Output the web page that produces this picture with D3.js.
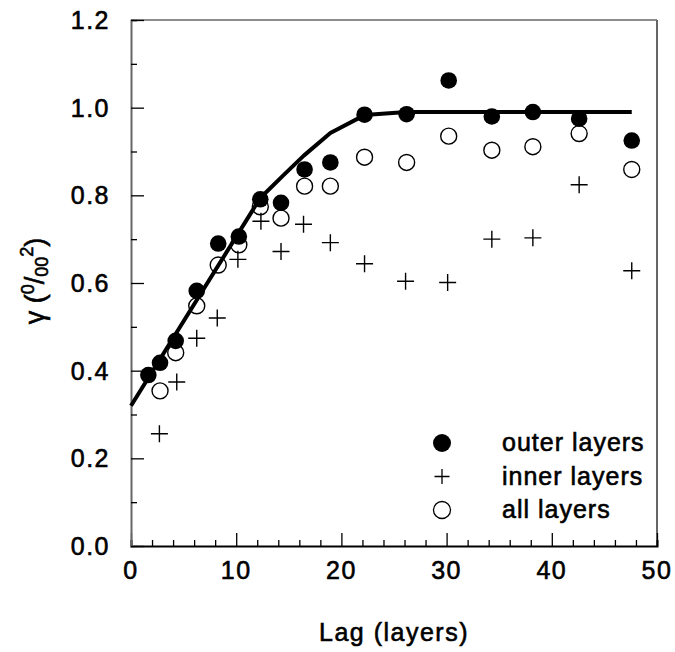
<!DOCTYPE html>
<html>
<head>
<meta charset="utf-8">
<script src="https://cdn.jsdelivr.net/npm/d3@7"></script>
<style>
  body { margin: 0; background: #fff; }
  svg text { font-family: "Liberation Sans", Arial, Helvetica, sans-serif; fill: #000; stroke: #000; stroke-width: 0.6px; }
</style>
</head>
<body>
<div id="chart"></div>
<script>
// lags (layers) and semivariance values
const outerLag = [1.65, 2.76, 4.25, 6.25, 8.29, 10.25, 12.29, 14.26, 16.5, 18.95, 22.2, 26.2, 30.2, 34.3, 38.2, 42.6, 47.6];
const outerVal = [0.390, 0.418, 0.468, 0.582, 0.690, 0.706, 0.791, 0.783, 0.859, 0.875, 0.984, 0.985, 1.062, 0.980, 0.990, 0.975, 0.925];

const innerLag = [2.7, 4.35, 6.25, 8.2, 10.16, 12.35, 14.26, 16.4, 18.95, 22.2, 26.1, 30.1, 34.3, 38.2, 42.6, 47.6];
const innerVal = [0.256, 0.374, 0.474, 0.520, 0.654, 0.741, 0.672, 0.734, 0.692, 0.644, 0.604, 0.601, 0.700, 0.703, 0.824, 0.628];

const allLag = [2.76, 4.25, 6.25, 8.29, 10.25, 12.29, 14.26, 16.5, 18.95, 22.2, 26.2, 30.2, 34.3, 38.2, 42.6, 47.6];
const allVal = [0.354, 0.441, 0.548, 0.641, 0.687, 0.774, 0.748, 0.821, 0.821, 0.887, 0.875, 0.935, 0.903, 0.911, 0.941, 0.859];

// fitted model line
const fitLag = [0, 12.29, 14.5, 16.4, 18.95, 22.2, 26.2, 47.6];
const fitVal = [0.32, 0.794, 0.846, 0.89, 0.942, 0.983, 0.99, 0.99];

const xTicks = [0, 10, 20, 30, 40, 50];
const yTicks = [0.0, 0.2, 0.4, 0.6, 0.8, 1.0, 1.2];

const legendItems = ["outer layers", "inner layers", "all layers"];

const width = 675;
const height = 652;
const margin = { top: 20, right: 18, bottom: 106, left: 131 };

const svg = d3.select("#chart").append("svg")
  .attr("width", width)
  .attr("height", height);

const x = d3.scaleLinear().domain([0, 50]).range([margin.left, width - margin.right]);
const y = d3.scaleLinear().domain([0, 1.2]).range([height - margin.bottom, margin.top]);

const fontSize = 25;

// frame
svg.append("line")
  .attr("x1", x(0)).attr("x2", x(50))
  .attr("y1", y(1.2)).attr("y2", y(1.2))
  .attr("stroke", "#666").attr("stroke-width", 1.5);
svg.append("line")
  .attr("x1", x(50)).attr("x2", x(50))
  .attr("y1", y(1.2)).attr("y2", y(0))
  .attr("stroke", "#666").attr("stroke-width", 2);

// x axis, ticks pointing inward
const xAxis = svg.append("g")
  .attr("transform", `translate(0,${y(0)})`)
  .call(d3.axisTop(x).tickValues(d3.range(0, 51, 2)).tickSize(6).tickFormat(""));
xAxis.selectAll(".tick line")
  .attr("y2", d => d % 10 === 0 ? -13 : -6)
  .attr("stroke", "#000").attr("stroke-width", 1.3);
xAxis.select(".domain").attr("stroke", "#000").attr("stroke-width", 2);

svg.append("g").selectAll("text")
  .data(xTicks)
  .enter().append("text")
  .attr("x", d => x(d))
  .attr("y", y(0) + 33)
  .attr("text-anchor", "middle")
  .style("font-size", fontSize + "px")
  .style("letter-spacing", "1.5px")
  .text(d => d);

// y axis, ticks pointing inward
const yAxis = svg.append("g")
  .attr("transform", `translate(${x(0)},0)`)
  .call(d3.axisRight(y).tickValues(d3.range(0, 12.5, 1).map(d => d / 10)).tickSize(6).tickFormat(""));
yAxis.selectAll(".tick line")
  .attr("x2", (d, i) => i % 2 === 0 ? 13 : 6)
  .attr("stroke", "#000").attr("stroke-width", 1.3);
yAxis.select(".domain").attr("stroke", "#666").attr("stroke-width", 2);

svg.append("g").selectAll("text")
  .data(yTicks)
  .enter().append("text")
  .attr("x", x(0) - 21)
  .attr("y", d => y(d) + 9)
  .attr("text-anchor", "end")
  .style("font-size", fontSize + "px")
  .style("letter-spacing", "1.5px")
  .text(d => d.toFixed(1));

// axis titles
svg.append("text")
  .attr("x", (x(0) + x(50)) / 2)
  .attr("y", 641)
  .attr("text-anchor", "middle")
  .style("font-size", fontSize + "px")
  .style("letter-spacing", "1.5px")
  .text("Lag (layers)");

const yTitle = svg.append("text")
  .attr("transform", `translate(44,${281}) rotate(-90)`)
  .attr("text-anchor", "middle")
  .style("font-size", "27px");
yTitle.append("tspan").text("\u03b3 (");
yTitle.append("tspan").attr("dy", -10).style("font-size", "18px").text("0");
yTitle.append("tspan").attr("dy", 10).text("/");
yTitle.append("tspan").attr("dy", 4).style("font-size", "18px").text("00");
yTitle.append("tspan").attr("dy", -15).style("font-size", "18px").text("2");
yTitle.append("tspan").attr("dy", 11).text(")");

// open circles: all layers
svg.append("g").selectAll("circle")
  .data(allLag.map((d, i) => [d, allVal[i]]))
  .enter().append("circle")
  .attr("cx", d => x(d[0]))
  .attr("cy", d => y(d[1]))
  .attr("r", 8)
  .attr("fill", "none")
  .attr("stroke", "#000")
  .attr("stroke-width", 1.4);

// plus signs: inner layers
svg.append("g").selectAll("path")
  .data(innerLag.map((d, i) => [d, innerVal[i]]))
  .enter().append("path")
  .attr("d", d => `M${x(d[0]) - 8.5},${y(d[1])}h17M${x(d[0])},${y(d[1]) - 8.5}v17`)
  .attr("stroke", "#000")
  .attr("stroke-width", 1.4);

// model line
svg.append("path")
  .datum(fitLag.map((d, i) => [d, fitVal[i]]))
  .attr("d", d3.line().x(d => x(d[0])).y(d => y(d[1])))
  .attr("fill", "none")
  .attr("stroke", "#000")
  .attr("stroke-width", 4)
  .attr("stroke-linejoin", "round");

// filled circles: outer layers
svg.append("g").selectAll("circle")
  .data(outerLag.map((d, i) => [d, outerVal[i]]))
  .enter().append("circle")
  .attr("cx", d => x(d[0]))
  .attr("cy", d => y(d[1]))
  .attr("r", 8.3)
  .attr("fill", "#000");

// legend
const legend = svg.append("g").attr("transform", "translate(442,443)");
const rowGap = 33.5;

legend.append("circle").attr("cx", 0).attr("cy", 0).attr("r", 9).attr("fill", "#000");
legend.append("path")
  .attr("d", `M-7.5,${rowGap}h15M0,${rowGap - 7.5}v15`)
  .attr("stroke", "#000").attr("stroke-width", 1.3);
legend.append("circle").attr("cx", 0).attr("cy", rowGap * 2).attr("r", 8.5)
  .attr("fill", "none").attr("stroke", "#000").attr("stroke-width", 1.3);

legend.selectAll(".label")
  .data(legendItems)
  .enter().append("text")
  .attr("class", "label")
  .attr("x", 60)
  .attr("y", (d, i) => i * rowGap + 8)
  .style("font-size", fontSize + "px")
  .style("letter-spacing", "1px")
  .text(d => d);
</script>
</body>
</html>
